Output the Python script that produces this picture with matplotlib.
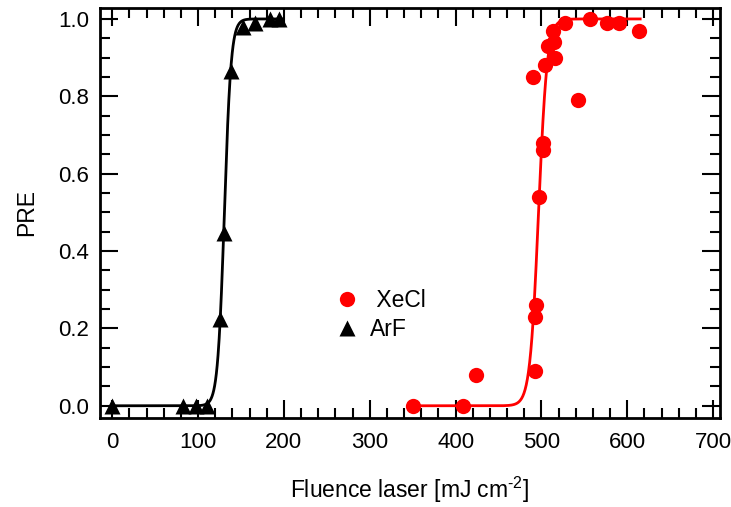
import numpy as np
import matplotlib
matplotlib.use("Agg")
import matplotlib.pyplot as plt
from matplotlib.ticker import MultipleLocator

plt.rcParams['font.family'] = ['Liberation Sans', 'DejaVu Sans']
plt.rcParams['mathtext.fontset'] = 'custom'
plt.rcParams['mathtext.rm'] = 'Liberation Sans'

# ArF data
arf_x = [0, 83, 98, 111, 126, 130, 138, 152, 166, 184, 194]
arf_y = [0.0, 0.0, 0.0, 0.0, 0.225, 0.447, 0.866, 0.98, 0.99, 1.0, 1.0]

# XeCl data
xecl_x = [350, 409, 424, 492, 492, 494, 497, 502, 502, 490, 504, 516, 508, 515, 514, 527, 557, 576, 590, 614, 542]
xecl_y = [0.0, 0.0, 0.08, 0.09, 0.23, 0.26, 0.54, 0.66, 0.68, 0.85, 0.88, 0.90, 0.93, 0.94, 0.97, 0.99, 1.0, 0.99, 0.99, 0.97, 0.79]

# fit parameters (logistic): centre, width, range
arf_fit = (130.7, 3.9, 0, 198)
xecl_fit = (496.6, 5.0, 350, 615)


def logistic(p):
    x0, w, lo, hi = p
    x = np.linspace(lo, hi, 600)
    return x, 1.0 / (1.0 + np.exp(-(x - x0) / w))


fig = plt.figure(figsize=(7.31, 5.07), dpi=100)
ax = fig.add_axes([0.137, 0.176, 0.848, 0.808])

fx, fy = logistic(arf_fit)
ax.plot(fx, fy, color="black", lw=2)
fx, fy = logistic(xecl_fit)
ax.plot(fx, fy, color="red", lw=2)

ax.plot(xecl_x, xecl_y, "o", color="red", ms=11, mec="none", label=" XeCl")
ax.plot(arf_x, arf_y, "^", color="black", ms=11, mec="none", label="ArF")

ax.set_xlim(-14, 708)
ax.set_ylim(-0.031, 1.028)
ax.xaxis.set_major_locator(MultipleLocator(100))
ax.xaxis.set_minor_locator(MultipleLocator(20))
ax.yaxis.set_major_locator(MultipleLocator(0.2))
ax.yaxis.set_minor_locator(MultipleLocator(0.05))
ax.yaxis.set_major_formatter(matplotlib.ticker.FormatStrFormatter("%.1f"))
ax.tick_params(which="both", direction="in", top=True, right=True, width=1.5, labelsize=16)
ax.tick_params(axis="x", pad=10)
ax.tick_params(axis="y", pad=8)
ax.tick_params(which="major", length=13)
ax.tick_params(which="minor", length=7)
for s in ax.spines.values():
    s.set_linewidth(2)

ax.set_xlabel("Fluence laser [mJ cm$^{\\text{-2}}$]", fontsize=16.5, labelpad=16)
ax.set_ylabel("PRE", fontsize=16.5, labelpad=14)

ax.legend(loc="center", bbox_to_anchor=(0.45, 0.25), frameon=False, fontsize=16.5,
          handletextpad=0.4, labelspacing=0.25, handlelength=1.2)

plt.savefig("out.png", dpi=100)
